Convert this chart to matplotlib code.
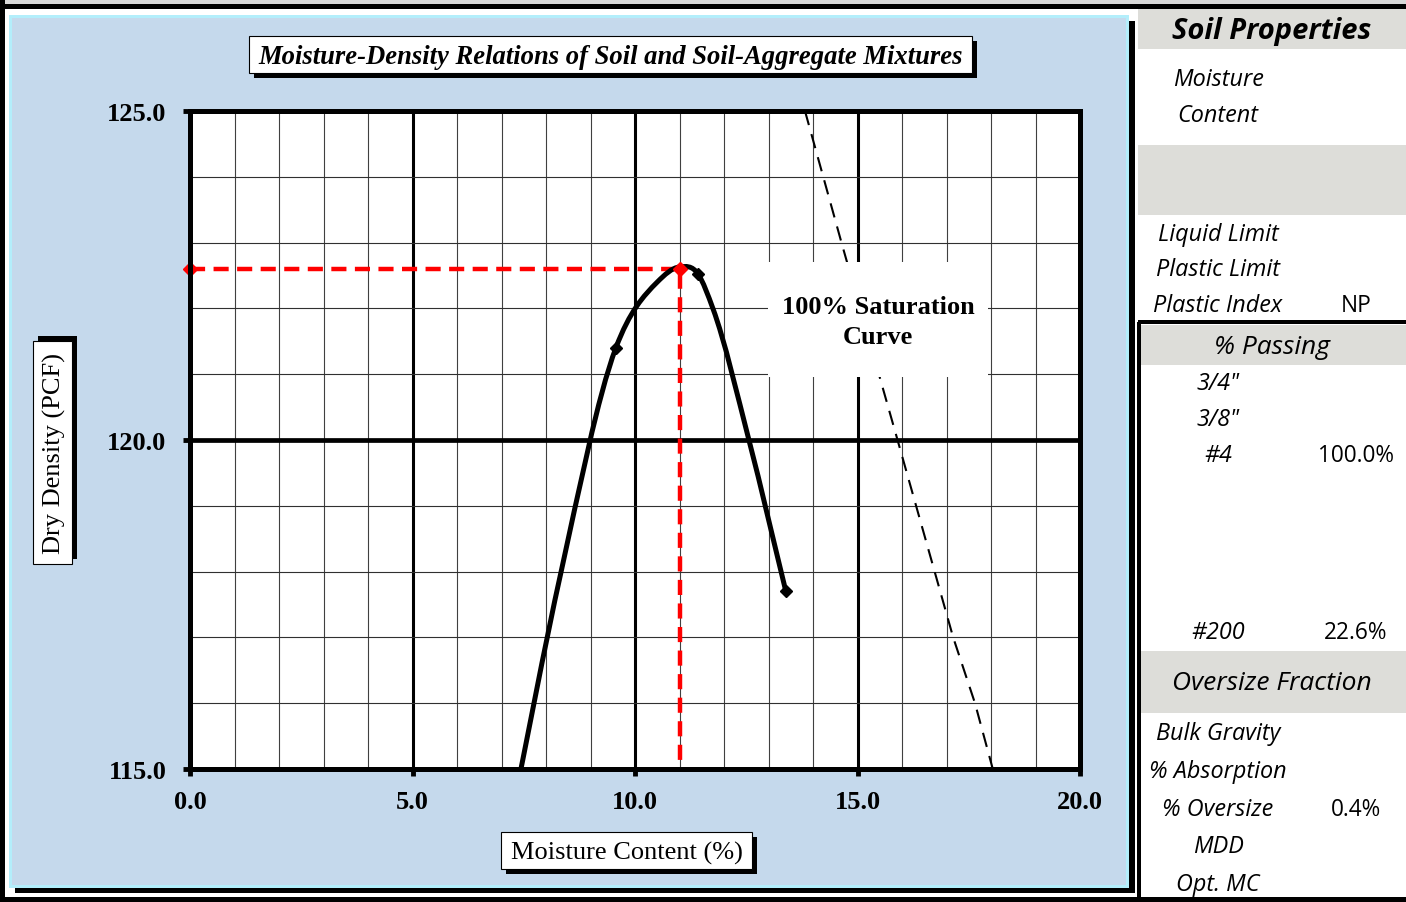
import matplotlib
matplotlib.use("Agg")
import matplotlib.pyplot as plt
from matplotlib.patches import Rectangle, PathPatch
from matplotlib.path import Path
import numpy as np

W, H = 1406, 903

# ---- data ----
# compaction curve trace (moisture %, dry density pcf)
curve_mc = [7.20, 8.34, 9.57, 10.50, 11.00, 11.42, 11.75, 12.56, 13.39]
curve_dd = [114.20, 118.00, 121.40, 122.40, 122.63, 122.52, 122.00, 120.00, 117.70]
# test points shown with markers
point_mc = [9.57, 11.42, 13.39]
point_dd = [121.40, 122.52, 117.70]
# 100% saturation (zero air voids) line
sat_mc = [13.82, 14.64, 15.90, 17.15, 17.64, 18.04]
sat_dd = [125.0, 123.0, 120.0, 117.0, 116.0, 115.0]
# maximum dry density / optimum moisture
mdd = 122.6
omc = 11.0

x_ticks = [0.0, 5.0, 10.0, 15.0, 20.0]
y_ticks = [115.0, 120.0, 125.0]

# side table rows: (label, value, y pixel)
table_rows = [
    ("Moisture", "", 80), ("Content", "", 116),
    ("Liquid Limit", "", 235), ("Plastic Limit", "", 270), ("Plastic Index", "NP", 306),
    ("3/4\"", "", 384), ("3/8\"", "", 420), ("#4", "100.0%", 456),
    ("#200", "22.6%", 633),
    ("Bulk Gravity", "", 734), ("% Absorption", "", 772), ("% Oversize", "0.4%", 810),
    ("MDD", "", 847), ("Opt. MC", "", 885),
]
table_headers = [("Soil Properties", 10, 50, True), ("% Passing", 326, 366, False),
                 ("Oversize Fraction", 652, 714, False)]

SERIF = "Liberation Serif"
SANS = "Open Sans"
BLUE = "#C5D9EC"
CYAN = "#B3EEFB"
GRAY = "#DDDDD9"

fig = plt.figure(figsize=(W / 100, H / 100), dpi=100, facecolor="white")


def frect(x0, y0, x1, y1, z=1, **kw):
    fig.patches.append(Rectangle((x0 / W, 1 - y1 / H), (x1 - x0) / W, (y1 - y0) / H,
                                 transform=fig.transFigure, zorder=z, **kw))


def ftext(x, y, s, z=8, **kw):
    fig.text(x / W, 1 - y / H, s, zorder=z, **kw)


# outer frame
frect(0, 0, W, 5, fc="#D8D8D8", ec="none")
frect(0, 5, W, 10, fc="black", ec="none")
frect(0, 0, 5, H, fc="black", ec="none")
frect(0, 898, W, H, fc="black", ec="none")

# chart panel with drop shadow
frect(15, 22, 1135, 894, fc="black", ec="none")
frect(9, 16, 1129, 889, fc=CYAN, ec="none")
frect(12, 19, 1126, 886, fc=BLUE, ec="none")

# side table
frect(1137, 323, 1141, 898, fc="black", ec="none", z=2)
for name, y0, y1, bold in table_headers:
    frect(1141 if y0 > 300 else 1138, y0, W, y1, fc=GRAY, ec="none")
    ftext(1272, (y0 + y1) / 2 + 1, name, family=SANS, style="italic",
          weight="bold" if bold else "normal", fontsize=21 if bold else 19,
          ha="center", va="center")
frect(1138, 146, W, 216, fc=GRAY, ec="none")
frect(1138, 321, W, 325, fc="black", ec="none", z=2)
for lab, val, y in table_rows:
    ftext(1218, y, lab, family=SANS, style="italic", fontsize=16.8, ha="center", va="center")
    if val:
        ftext(1356, y, val, family=SANS, fontsize=16.3, ha="center", va="center")

# ---- plot area ----
ax = fig.add_axes([190 / W, 1 - 770 / H, 890 / W, 658 / H])
ax.set_zorder(5)
ax.set_facecolor("white")
ax.set_xlim(0, 20)
ax.set_ylim(115, 125)
ax.set_xticks(x_ticks)
ax.set_yticks(y_ticks)
ax.set_xticks(np.arange(0, 20.01, 1.0), minor=True)
ax.set_yticks(np.arange(115, 125.01, 1.0), minor=True)
ax.set_xticklabels([f"{v:.1f}" for v in x_ticks])
ax.set_yticklabels([f"{v:.1f}" for v in y_ticks])
for lab in ax.get_xticklabels() + ax.get_yticklabels():
    lab.set_fontfamily(SERIF)
    lab.set_fontweight("bold")
    lab.set_fontsize(19)
ax.tick_params(which="major", direction="out", length=5, width=3.5, color="black")
ax.tick_params(axis="x", which="major", pad=10)
ax.tick_params(axis="y", which="major", pad=12)
ax.tick_params(which="minor", length=0)
ax.xaxis.grid(True, which="minor", color="#404040", lw=0.8)
ax.yaxis.grid(True, which="minor", color="#303030", lw=0.8)
ax.xaxis.grid(True, which="major", color="black", lw=2.2)
ax.yaxis.grid(True, which="major", color="black", lw=3.4)
ax.set_axisbelow(True)
for sp in ax.spines.values():
    sp.set_linewidth(3.6)
    sp.set_zorder(10)

# saturation line
ax.plot(sat_mc, sat_dd, color="black", lw=1.5, dashes=(7, 4.5), zorder=2)

# label box for the saturation line
bx0, bx1 = (768 - 190) / 890, (988 - 190) / 890
by0, by1 = (770 - 378) / 658, (770 - 263) / 658
ax.add_patch(Rectangle((bx0, by0), bx1 - bx0, by1 - by0, transform=ax.transAxes,
                       fc="white", ec="none", zorder=3))
ax.text((bx0 + bx1) / 2, (by0 + by1) / 2 - 0.003, "100% Saturation\nCurve", transform=ax.transAxes,
        family=SERIF, weight="bold", fontsize=19, ha="center", va="center",
        linespacing=1.4, zorder=4)

# MDD / OMC guide lines
ax.plot([0, omc, omc], [mdd, mdd, 115], color="red", lw=3.2, dashes=(3.4, 1.9), zorder=4)
ax.plot([0, omc], [mdd, mdd], "D", color="red", ms=7, zorder=6, clip_on=False)

# smooth compaction curve: cubic Hermite segments drawn as Bezier curves
x = np.asarray(curve_mc)
y = np.asarray(curve_dd)
h = np.diff(x)
s = np.diff(y) / h
d = np.empty_like(x)
d[0], d[-1] = s[0], s[-1]
d[1:-1] = (h[1:] * s[:-1] + h[:-1] * s[1:]) / (h[:-1] + h[1:])
verts = [(x[0], y[0])]
codes = [Path.MOVETO]
for i in range(len(x) - 1):
    verts += [(x[i] + h[i] / 3, y[i] + d[i] * h[i] / 3),
              (x[i + 1] - h[i] / 3, y[i + 1] - d[i + 1] * h[i] / 3),
              (x[i + 1], y[i + 1])]
    codes += [Path.CURVE4] * 3
ax.add_patch(PathPatch(Path(verts, codes), fc="none", ec="black", lw=3.6,
                       capstyle="butt", zorder=5))
ax.plot(point_mc, point_dd, "D", color="black", ms=6, zorder=6)

# ---- titles with shadowed boxes ----
frect(254, 42, 977, 79, fc="black", ec="none", z=6)
frect(249, 37, 972, 74, fc="white", ec="black", lw=0.8, z=7)
ftext(610.5, 57, "Moisture-Density Relations of Soil and Soil-Aggregate Mixtures",
      family=SERIF, weight="bold", style="italic", fontsize=19.2, ha="center", va="center")

frect(506, 838, 757, 875, fc="black", ec="none", z=6)
frect(501, 833, 752, 870, fc="white", ec="black", lw=0.8, z=7)
ftext(626.5, 853, "Moisture Content (%)", family=SERIF, fontsize=19,
      ha="center", va="center")

frect(38, 337, 77, 560, fc="black", ec="none", z=6)
frect(33, 342, 72, 565, fc="white", ec="black", lw=0.8, z=7)
ftext(54, 453.5, "Dry Density (PCF)", family=SERIF, fontsize=19, rotation=90,
      ha="center", va="center")

fig.savefig("out.png", dpi=100, facecolor="white")
